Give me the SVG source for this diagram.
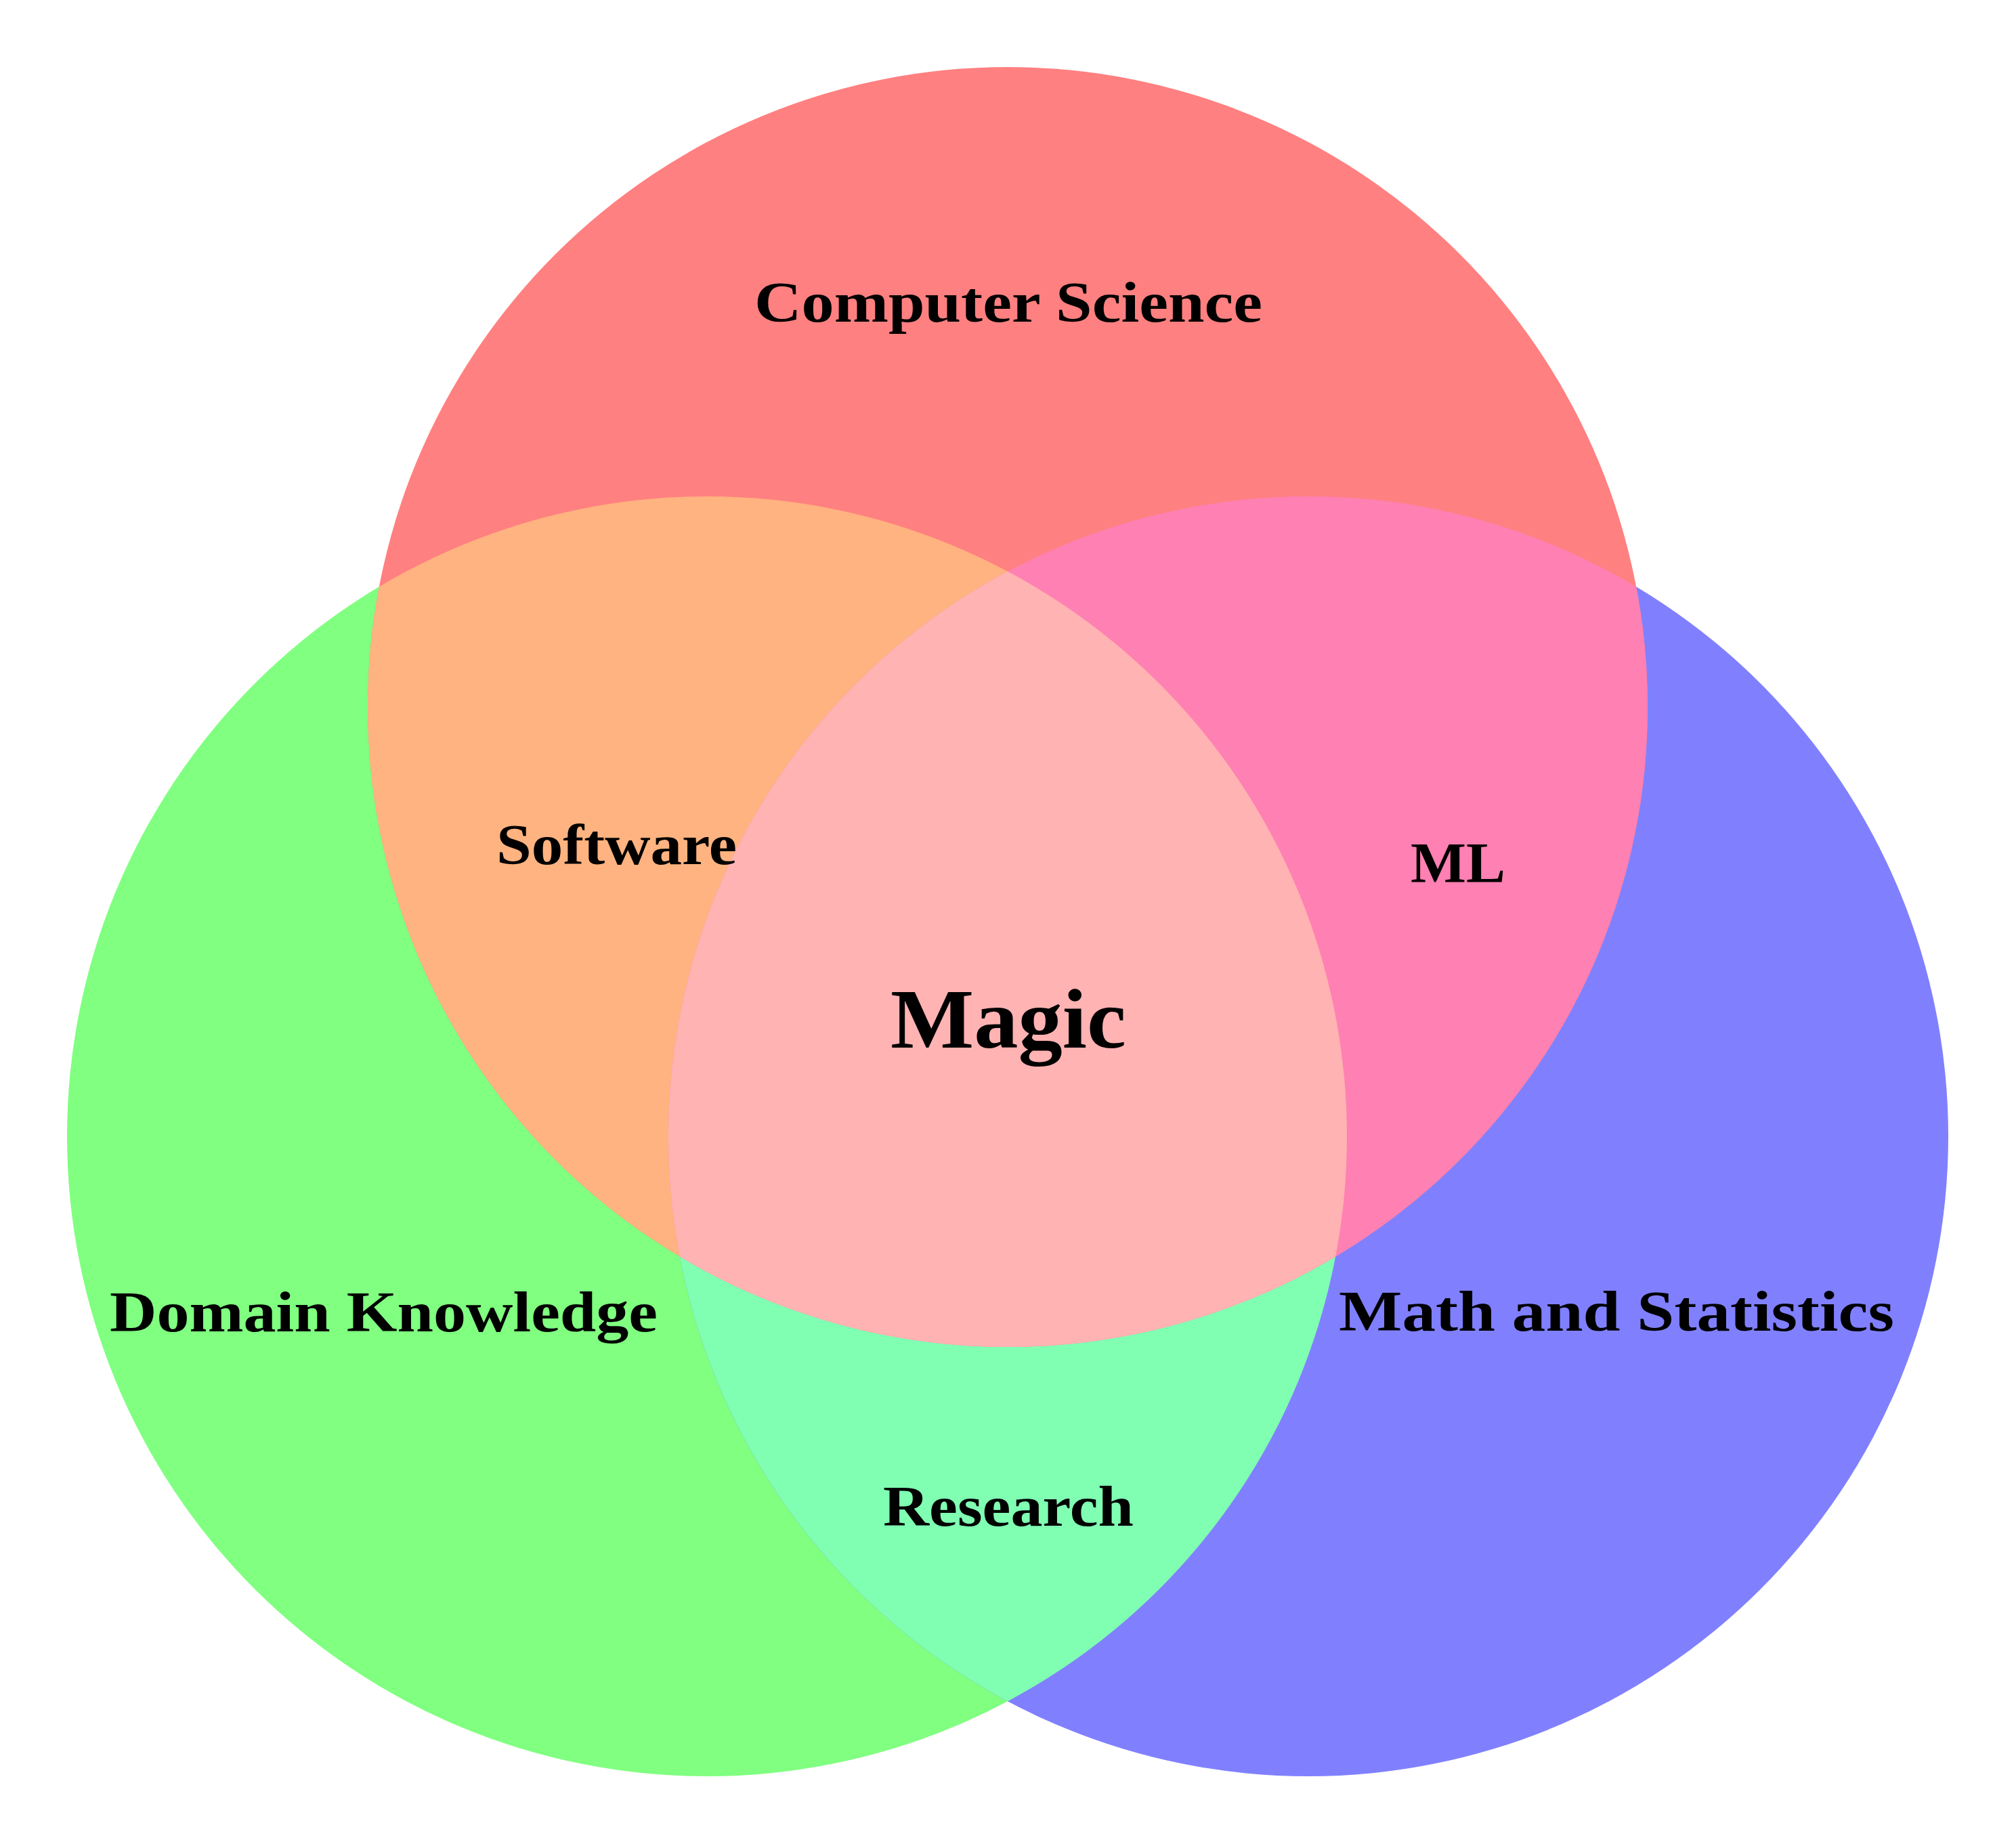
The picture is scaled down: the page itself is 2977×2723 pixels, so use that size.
<svg xmlns="http://www.w3.org/2000/svg" width="2977" height="2723" viewBox="0 0 2977 2723">
<style>
.lbl{font-family:"Liberation Serif","DejaVu Serif",serif;font-weight:bold;fill:#000;font-size:84px}
.big{font-size:124px}
</style>
<defs>
<circle id="cR" cx="1488" cy="1044" r="945"/>
<circle id="cG" cx="1044" cy="1678" r="945"/>
<circle id="cB" cx="1932" cy="1678" r="945"/>
<clipPath id="clipG"><use href="#cG"/></clipPath>
<clipPath id="clipB"><use href="#cB"/></clipPath>
</defs>
<rect width="2977" height="2723" fill="#fff"/>
<g id="circles">
<g id="domain"><use href="#cG" fill="#80FF80"/></g>
<g id="math"><use href="#cB" fill="#8080FF"/></g>
<g id="cs"><use href="#cR" fill="#FF8080"/></g>
<g id="research" clip-path="url(#clipG)"><use href="#cB" fill="#80FFB3"/></g>
<g id="software" clip-path="url(#clipG)"><use href="#cR" fill="#FFB380"/></g>
<g id="ml" clip-path="url(#clipB)"><use href="#cR" fill="#FF80B3"/></g>
<g id="magic" clip-path="url(#clipG)"><g clip-path="url(#clipB)"><use href="#cR" fill="#FFB3B3"/></g></g>
</g>
<g id="connectors"/>
<g id="labels">
<text class="lbl" x="1114" y="475" textLength="750" lengthAdjust="spacingAndGlyphs">Computer Science</text>
<text class="lbl" x="733" y="1276" textLength="355" lengthAdjust="spacingAndGlyphs">Software</text>
<text class="lbl big" x="1315" y="1547" textLength="348" lengthAdjust="spacingAndGlyphs">Magic</text>
<text class="lbl" x="2083" y="1303" textLength="140" lengthAdjust="spacingAndGlyphs">ML</text>
<text class="lbl" x="162" y="1966" textLength="809" lengthAdjust="spacingAndGlyphs">Domain Knowledge</text>
<text class="lbl" x="1977" y="1965" textLength="820" lengthAdjust="spacingAndGlyphs">Math and Statistics</text>
<text class="lbl" x="1304" y="2253" textLength="370" lengthAdjust="spacingAndGlyphs">Research</text>
</g>
</svg>
